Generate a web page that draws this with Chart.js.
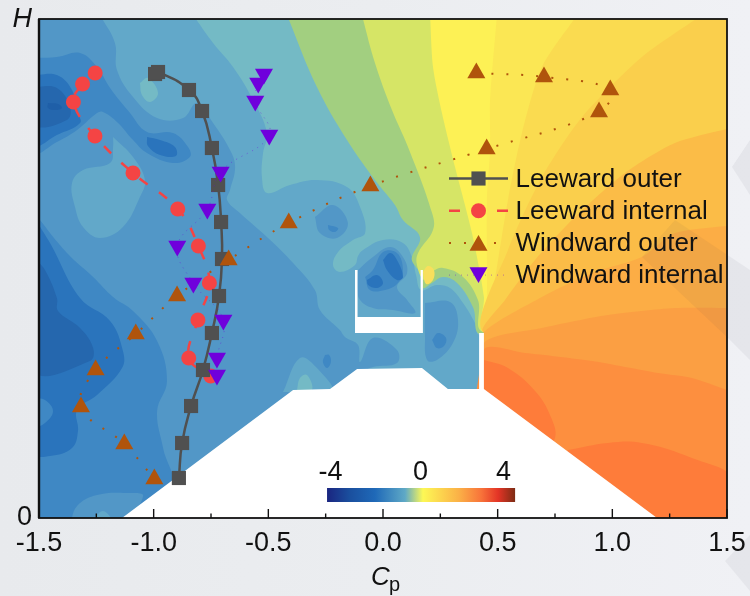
<!DOCTYPE html>
<html lang="en">
<head>
<meta charset="UTF-8">
<title>Cp profile</title>
<style>
html, body { margin: 0; padding: 0; }
body { width: 750px; height: 596px; overflow: hidden; position: relative;
       background: linear-gradient(90deg, #e8eaed 0%, #ebedf0 50%, #f0f1f5 100%); }
canvas { position: absolute; left: 0; top: 0; }
.mark { position: absolute; left: 0; top: 0; width: 750px; height: 596px; background: rgba(60,60,70,0.055); pointer-events: none; }
</style>
</head>
<body>
<canvas id="myChart" width="750" height="596"></canvas>
<div class="mark" style="clip-path: polygon(750px 140px, 732px 167px, 750px 195px)"></div>
<div class="mark" style="clip-path: polygon(675px 220px, 642px 257px, 728px 338px, 750px 360px, 750px 270px)"></div>
<div class="mark" style="clip-path: polygon(750px 535px, 725px 561px, 750px 591px)"></div>

<script src="https://cdn.jsdelivr.net/npm/chart.js"></script>
<script>
// measured series, x = Cp, y = height
const cpLeewardOuter = [-0.994,-0.981,-0.846,-0.789,-0.746,-0.719,-0.706,-0.702,-0.715,-0.746,-0.785,-0.837,-0.876,-0.890]
const hLeewardOuter = [444,446,428,407,370,333,296,259,222,185,148,112,75,40]
const cpLeewardInternal = [-1.255,-1.310,-1.350,-1.256,-1.090,-0.895,-0.805,-0.757,-0.807,-0.847,-0.751]
const hLeewardInternal = [445,434,416,382,345,309,272,235,198,160,142]
const cpWindwardOuter = [0.407,0.702,0.991,0.942,0.452,-0.055,-0.411,-0.673,-0.898,-1.078,-1.253,-1.317,-1.128,-0.997]
const hWindwardOuter = [445,441,428,406,369,332,295,258,222,184,148,111,74,39]
const cpWindwardInternal = [-0.519,-0.544,-0.557,-0.496,-0.708,-0.766,-0.897,-0.827,-0.696,-0.724,-0.724]
const hWindwardInternal = [444,435,417,383,346,309,272,235,198,160,143]

const xTickLabels = [-1.5,-1,-0.5,0,0.5,1,1.5]
const xMinorTicks = [-1.25,-0.75,-0.25,0.25,0.75,1.25]
const barLabels = ['-4','0','4']

// contour bands, painted in this order
const fieldAll = [[-1.5,0],[1.5,0],[1.5,499],[-1.5,499]]
const upperBand = [[-1.52,460],[-1.422,461],[-1.321,465],[-1.247,451],[-1.19,430],[-1.103,405],[-1.029,386],[-.916,385],[-.85,371],[-.842,361],[-.916,355],[-1.029,365],[-1.09,378],[-1.16,396],[-1.221,406],[-1.247,405],[-1.334,388],[-1.422,376],[-1.52,366]]
const upperStreak = [[-1.029,381],[-.972,378],[-.907,371],[-.903,362],[-.972,363],[-1.025,372]]
const upperCore = [[-1.52,443],[-1.422,443],[-1.356,428],[-1.33,405],[-1.321,395],[-1.422,383],[-1.52,373]]
const upperCore2 = [[-1.52,431],[-1.422,430],[-1.365,411],[-1.378,398],[-1.52,393]]
const upperCore3 = [[-1.461,415],[-1.417,414],[-1.4,410],[-1.43,408],[-1.461,410]]
const mainLight = [[-1.234,503],[-1.169,475],[-1.16,448],[-1.09,421],[-.985,400],[-.872,400],[-.811,415],[-.741,395],[-.667,368],[-.645,351],[-.667,328],[-.68,318],[-.624,305],[-.506,281],[-.392,255],[-.297,228],[-.275,208],[-.188,188],[-.166,181],[-.109,173],[-.1,156],[-.044,180],[.061,168],[.061,155],[-.044,151],[-.078,146],[.51,123],[1.535,123],[1.535,503]]
const lobeLight = [[-1.177,381],[-1.09,361],[-1.038,338],[-1.06,321],[-1.134,291],[-1.234,280],[-1.308,291],[-1.343,311],[-1.356,335],[-1.308,348],[-1.19,355],[-1.177,371]]
const lowerBand = [[-1.52,305],[-1.378,265],[-1.264,241],[-1.177,221],[-1.09,207],[-.985,177],[-.942,137],[-.985,107],[-.959,70],[-.92,28],[-1.125,-7],[-1.52,-7]]
const lowerCore = [[-1.52,300],[-1.452,275],[-1.321,220],[-1.19,197],[-1.134,167],[-1.138,150],[-1.247,123],[-1.334,108],[-1.33,87],[-1.356,70],[-1.452,62],[-1.52,65]]
const lowerBubble = [[-1.52,120],[-1.474,118],[-1.439,107],[-1.474,95],[-1.52,92]]
const lowerCore2 = [[-1.52,260],[-1.474,248],[-1.422,220],[-1.417,207],[-1.321,190],[-1.264,170],[-1.278,157],[-1.52,147]]
const footPatch = [[-1.365,-7],[-1.334,12],[-1.247,23],[-1.116,25],[-1.046,22],[-1.147,-7]]
const footPatch2 = [[-1.278,-7],[-1.221,7],[-1.177,-7]]
const teal = [[-.828,503],[-.741,475],[-.654,451],[-.567,418],[-.506,385],[-.523,365],[-.528,341],[-.506,325],[-.406,333],[-.288,338],[-.157,331],[-.1,311],[-.078,285],[-.131,278],[-.196,266],[-.218,253],[-.188,246],[-.122,253],[-.109,262],[-.087,268],[0,278],[.087,275],[.126,261],[.144,243],[.166,228],[.235,233],[.292,230],[.349,215],[.401,195],[.423,183],[1.535,173],[1.535,503]]
const tealBlob = [[-1.06,435],[-1.025,440],[-.981,425],[-1.016,416],[-1.051,423]]
const islet = [[-.297,301],[-.218,313],[-.153,295],[-.201,280],[-.275,285]]
const isletCore = [[-.24,293],[-.196,290],[-.209,286],[-.235,288]]
const green = [[-.419,503],[-.288,431],[-.157,378],[-.035,338],[.052,313],[.087,298],[.161,281],[.126,261],[.131,255],[.17,243],[.174,230],[.214,235],[.262,241],[.323,235],[.392,211],[.432,183],[1.535,173],[1.535,503]]
const lime = [[-.092,503],[-.035,455],[.039,408],[.109,371],[.214,305],[.218,288],[.153,265],[.148,253],[.179,238],[.214,246],[.262,250],[.349,241],[.414,218],[.44,186],[1.535,173],[1.535,503]]
const hotSpot = [[.174,246],[.196,252],[.222,248],[.218,238],[.188,234]]
const yellow = [[.205,503],[.218,451],[.257,405],[.314,351],[.388,285],[.44,221],[.44,186],[1.535,173],[1.535,503]]
const yellow2 = [[.497,503],[.467,418],[.467,368],[.453,318],[.453,221],[.44,186],[1.535,173],[1.535,503]]
const amber1 = [[.846,503],[.693,451],[.606,385],[.545,318],[.475,221],[.44,186],[1.535,173],[1.535,503]]
const amber2 = [[1.391,503],[1.129,461],[.868,401],[.693,341],[.545,268],[.44,186],[1.535,173],[1.535,503]]
const amber3 = [[1.535,391],[1.273,375],[1.055,345],[.837,301],[.663,258],[.532,218],[.44,186],[1.535,173]]
const amber4 = [[1.535,293],[1.273,285],[1.129,261],[.911,245],[.693,221],[.44,186],[.44,165],[1.535,165]]
const orange1 = [[1.535,210],[1.273,210],[.981,203],[.693,190],[.44,175],[.44,115],[.44,-7],[1.535,-7]]
const orange2 = [[1.535,125],[1.347,140],[1.199,145],[.911,157],[.619,165],[.44,168],[.44,-7],[1.535,-7]]
const orange3 = [[.44,158],[.545,150],[.663,127],[.728,103],[.75,80],[.685,68],[.44,118]]
const orange4 = [[.807,68],[.981,75],[1.129,75],[1.347,60],[1.535,38],[1.535,-7],[1.121,-7],[.772,48]]
const courtMid = [[-.109,248],[-.044,261],[.031,271],[.087,261],[.105,245],[.061,231],[.105,218],[.14,205],[.044,208],[-.044,210],[-.1,218],[-.113,231]]
const courtDeep = [[-.078,241],[-.044,248],[0,266],[.061,265],[.087,248],[.065,235],[.009,228],[-.057,228]]
const courtCore1 = [[0,258],[.031,265],[.061,258],[.087,241],[.061,238],[.017,248]]
const courtCore2 = [[-.07,238],[-.026,243],[0,235],[-.026,230],[-.065,233]]
const boxMid = [[.183,215],[.292,216],[.327,198],[.305,175],[.235,158],[.192,158],[.183,183]]
const boxDeep = [[.214,178],[.24,185],[.275,180],[.266,172],[.235,170]]
const roofBubble = [[-.436,126],[-.362,160],[-.288,150],[-.222,126]]
const roofBubble2 = [[-.375,128],[-.362,140],[-.331,143],[-.31,128]]
const roofSpot = [[-.253,163],[-.235,163],[-.227,156],[-.244,150],[-.262,156]]

// solid parts of the section
const buildingBase = [[-1.138,0],[-.392,128],[-.231,129],[-.113,149],[.17,150],[.283,129],[.44,129],[1.195,0]]
const sideWall = [[.419,185],[.44,185],[.44,129],[.419,129]]
const courtWalls = [[-.122,248],[-.111,248],[-.111,201],[.164,201],[.164,248],[.174,248],[.174,185],[-.122,185]]

const fan = 0.25
const layers = [
    ['#5297c7', fieldAll], ['#3f88c4', upperBand], ['#2a74bc', upperStreak], ['#2a74bc', upperCore],
    ['#2567ae', upperCore2], ['#1f5fa8', upperCore3], ['#62a8c9', mainLight], ['#62a8c9', lobeLight],
    ['#3f88c4', lowerBand], ['#2a74bc', lowerCore], ['#3f88c4', lowerBubble], ['#2567ae', lowerCore2],
    ['#5297c7', footPatch], ['#62a8c9', footPatch2], ['#74bac5', teal], ['#74bac5', tealBlob],
    ['#5297c7', islet], ['#3f88c4', isletCore], ['#a2cf80', green], ['#d6e566', lime], ['#f8df5c', hotSpot],
    ['#fdf155', yellow, fan], ['#fbe754', yellow2, fan], ['#fadb50', amber1, fan], ['#facf4c', amber2, fan], ['#fbbc47', amber3, fan],
    ['#fcad45', amber4, fan], ['#fb9f43', orange1, fan], ['#fd8f3f', orange2, fan], ['#fe7c3a', orange3], ['#fe7c3a', orange4],
    ['#5297c7', courtMid], ['#3f88c4', courtDeep], ['#2a74bc', courtCore1], ['#2a74bc', courtCore2],
    ['#5297c7', boxMid], ['#3f88c4', boxDeep], ['#62a8c9', roofBubble], ['#74bac5', roofBubble2], ['#3f88c4', roofSpot]
]
const solids = [buildingBase, sideWall, courtWalls]

const toPoints = (xs, ys) => xs.map((x, i) => ({x: x, y: ys[i]}))
const polyPoints = poly => poly.concat([poly[0]]).map(p => ({x: p[0], y: p[1]}))

const datasets = []
const series = [
    {label: 'Windward internal', data: toPoints(cpWindwardInternal, hWindwardInternal), color: '#6f00dc', line: 'rgba(111,0,220,0.45)', lw: 1, dash: [1,5], style: 'triangle', r: 10.4, rot: 180, order: 1, sample: 4},
    {label: 'Windward outer', data: toPoints(cpWindwardOuter, hWindwardOuter), color: '#b0540c', line: '#b0540c', lw: 2, dash: [2,13], style: 'triangle', r: 10.4, rot: 0, order: 2, sample: 3},
    {label: 'Leeward outer', data: toPoints(cpLeewardOuter, hLeewardOuter), color: '#505050', line: '#505050', lw: 2.5, dash: [], style: 'rect', r: 10, rot: 0, order: 3, sample: 1, tension: 0.5},
    {label: 'Leeward internal', data: toPoints(cpLeewardInternal, hLeewardInternal), color: '#f44444', line: '#f44444', lw: 2.5, dash: [10,14], dashOffset: 4, style: 'circle', r: 7.5, rot: 0, order: 4, sample: 2}
]
series.forEach(s => datasets.push({
    label: s.label, data: s.data, showLine: true, tension: s.tension || 0.4,
    borderColor: s.line, borderWidth: s.lw, borderDash: s.dash, borderDashOffset: s.dashOffset || 0,
    backgroundColor: s.color, pointBackgroundColor: s.color, pointBorderWidth: 0,
    pointStyle: s.style, pointRadius: s.r, pointRotation: s.rot, order: s.order
}))
solids.forEach((poly, i) => datasets.push({
    data: polyPoints(poly), showLine: true, tension: 0, fill: 'shape',
    backgroundColor: '#ffffff', borderWidth: 0, pointRadius: 0, order: 10 + i
}))
layers.forEach((l, i) => datasets.push({
    data: polyPoints(l[1]), showLine: true, tension: l[2] === undefined ? 0.4 : l[2], fill: 'shape',
    backgroundColor: l[0], borderWidth: 0, pointRadius: 0, order: 200 - i
}))

const textFont = '"Liberation Sans", Arial, sans-serif'

const extras = {
    id: 'extras',
    afterDatasetsDraw(chart) {
        const {ctx, chartArea: a, scales: {x, y}} = chart
        ctx.save()
        // colour bar, placed in data units
        const bl = x.getPixelForValue(-0.244), br = x.getPixelForValue(0.576)
        const bt = y.getPixelForValue(30), bb = y.getPixelForValue(16)
        const g = ctx.createLinearGradient(bl, 0, br, 0)
        const stops = [[0,'#1a2580'],[0.12,'#1a4f9e'],[0.255,'#1f69b8'],[0.415,'#5fa9c6'],[0.51,'#fdf855'],[0.7,'#fbb147'],[0.82,'#f8733a'],[0.91,'#e33426'],[1,'#7d2c14']]
        stops.forEach(s => g.addColorStop(s[0], s[1]))
        ctx.fillStyle = g
        ctx.fillRect(bl, bt, br - bl, bb - bt)
        ctx.fillStyle = '#111'
        ctx.font = '27px ' + textFont
        ctx.textAlign = 'center'
        ctx.textBaseline = 'alphabetic'
        ctx.fillText(barLabels[0], 330.5, 480)
        ctx.fillText(barLabels[1], 420.5, 480)
        ctx.fillText(barLabels[2], 503.5, 480)

        // frame and inner ticks
        ctx.strokeStyle = '#111'
        ctx.lineWidth = 1.4
        ctx.beginPath()
        xTickLabels.forEach(v => { const p = x.getPixelForValue(v); ctx.moveTo(p, a.bottom); ctx.lineTo(p, a.bottom - 9) })
        xMinorTicks.forEach(v => { const p = x.getPixelForValue(v); ctx.moveTo(p, a.bottom); ctx.lineTo(p, a.bottom - 4.5) })
        ctx.stroke()
        ctx.lineWidth = 1.8
        ctx.strokeRect(a.left, a.top, a.right - a.left, a.bottom - a.top)
        ctx.lineWidth = 2.4
        ctx.beginPath(); ctx.moveTo(a.left, a.top); ctx.lineTo(a.left, a.bottom); ctx.stroke()

        // legend
        const rows = series.slice().sort((p, q) => p.sample - q.sample)
        rows.forEach((s, i) => {
            const ly = 178.5 + i * 32.2
            ctx.save()
            ctx.strokeStyle = s.line
            ctx.lineWidth = s.lw
            ctx.setLineDash(s.label === 'Leeward internal' ? [11,37] : s.dash)
            ctx.beginPath(); ctx.moveTo(449, ly); ctx.lineTo(508, ly); ctx.stroke()
            ctx.restore()
            ctx.fillStyle = s.color
            Chart.helpers.drawPoint(ctx, {pointStyle: s.style, radius: s.r, rotation: s.rot, borderWidth: 0}, 478.5, ly + (s.style === 'triangle' ? (s.rot ? -2.6 : 2.6) : 0))
            ctx.fillStyle = '#111'
            ctx.font = '26px ' + textFont
            ctx.textAlign = 'left'
            ctx.textBaseline = 'middle'
            ctx.fillText(s.label, 515.5, ly + 1)
        })

        // axis title with subscript
        ctx.textBaseline = 'alphabetic'
        ctx.textAlign = 'left'
        ctx.font = 'italic 26px ' + textFont
        ctx.fillText('C', 371, 585)
        ctx.font = '20px ' + textFont
        ctx.fillText('p', 389, 591)
        ctx.restore()
    }
}

new Chart(document.getElementById('myChart'), {
    type: 'scatter',
    data: {datasets: datasets},
    options: {
        responsive: false,
        animation: false,
        events: [],
        layout: {padding: {left: 0, right: 23, top: 19, bottom: 0}},
        plugins: {legend: {display: false}, tooltip: {enabled: false}},
        scales: {
            x: {
                min: -1.5, max: 1.5,
                afterFit(scale) { scale.height = 78; scale.paddingLeft = 0; scale.paddingRight = 0 },
                grid: {display: false, drawTicks: false},
                border: {display: false},
                ticks: {stepSize: 0.5, autoSkip: false, maxRotation: 0, padding: 9, color: '#111',
                    font: {family: textFont, size: 27},
                    callback: v => v.toFixed(1)}
            },
            y: {
                min: 0, max: 499,
                afterFit(scale) { scale.width = 39; scale.paddingTop = 0; scale.paddingBottom = 0 },
                grid: {display: false, drawTicks: false},
                border: {display: false},
                ticks: {stepSize: 499, autoSkip: false, padding: 7, color: '#111',
                    font: ctx => ({family: textFont, size: 27, style: ctx.tick && ctx.tick.value === 499 ? 'italic' : 'normal'}),
                    callback: v => v === 0 ? '0' : 'H'}
            }
        }
    },
    plugins: [extras]
})
</script>
</body>
</html>
